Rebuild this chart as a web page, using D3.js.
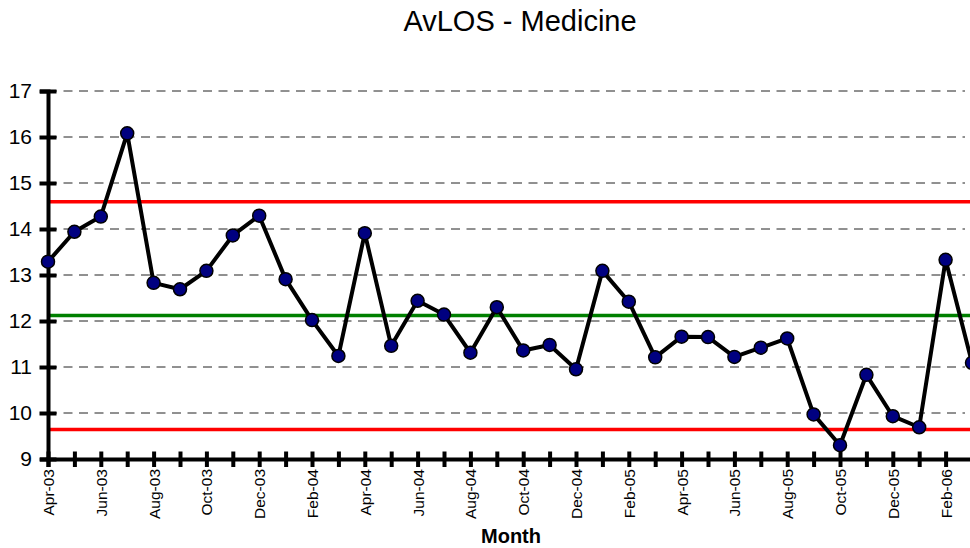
<!DOCTYPE html>
<html><head><meta charset="utf-8">
<script src="https://cdn.jsdelivr.net/npm/d3@7"></script>
<style>body{margin:0;background:#fff}svg{display:block}text{font-family:"Liberation Sans",Arial,sans-serif}</style>
</head><body><svg id="c" width="970" height="548"></svg>
<script>
const months = ["Apr-03","May-03","Jun-03","Jul-03","Aug-03","Sep-03","Oct-03","Nov-03","Dec-03","Jan-04","Feb-04","Mar-04","Apr-04","May-04","Jun-04","Jul-04","Aug-04","Sep-04","Oct-04","Nov-04","Dec-04","Jan-05","Feb-05","Mar-05","Apr-05","May-05","Jun-05","Jul-05","Aug-05","Sep-05","Oct-05","Nov-05","Dec-05","Jan-06","Feb-06","Mar-06"];
const avlos = [13.29,13.94,14.27,16.08,12.83,12.69,13.09,13.86,14.29,12.91,12.02,11.24,13.91,11.46,12.44,12.14,11.31,12.30,11.36,11.48,10.95,13.09,12.42,11.21,11.66,11.65,11.22,11.42,11.62,9.97,9.30,10.83,9.93,9.69,13.33,11.09];
const ucl = 14.59, mean = 12.12, lcl = 9.64;
const yTicks = [9,10,11,12,13,14,15,16,17];

const svg = d3.select("#c");
const x = d3.scalePoint().domain(months).range([48, 972]);
const y = d3.scaleLinear().domain([9,17]).range([459, 91]);

svg.append("text").attr("x",520).attr("y",31).attr("text-anchor","middle").attr("font-size",29).text("AvLOS - Medicine");

// gridlines
svg.append("g").selectAll("line").data(yTicks.filter(d=>d>9)).join("line")
  .attr("x1",48).attr("x2",965).attr("y1",d=>y(d)).attr("y2",d=>y(d))
  .attr("stroke","#222").attr("stroke-width",1).attr("stroke-dasharray","9,6.5");

// control lines
[[ucl,"#ff0000"],[mean,"#008000"],[lcl,"#ff0000"]].forEach(([v,c])=>{
  svg.append("line").attr("x1",48).attr("x2",970).attr("y1",y(v)).attr("y2",y(v))
    .attr("stroke",c).attr("stroke-width",3.5);
});

// y axis
const ya = svg.append("g").attr("transform","translate(48,0)")
  .call(d3.axisLeft(y).tickValues(yTicks).tickSize(8).tickFormat(d3.format("d")));
ya.select(".domain").attr("stroke","#000").attr("stroke-width",4);
ya.selectAll(".tick line").attr("x1",-8.5).attr("x2",8.5).attr("stroke","#000").attr("stroke-width",4);
ya.selectAll(".tick text").attr("x",-16).attr("font-size",21).attr("font-family","Liberation Sans, Arial").attr("fill","#000");

// x axis
const xa = svg.append("g").attr("transform","translate(0,459)")
  .call(d3.axisBottom(x).tickSize(8).tickFormat((d,i)=> i%2===0 ? d : ""));
xa.select(".domain").attr("stroke","#000").attr("stroke-width",4);
xa.selectAll(".tick line").attr("y1",-7.5).attr("y2",8).attr("stroke","#000").attr("stroke-width",4);
xa.selectAll(".tick text").attr("font-size",15.5).attr("font-family","Liberation Sans, Arial").attr("fill","#000")
  .attr("transform","rotate(-90)").attr("text-anchor","end").attr("x",-10).attr("y",0).attr("dy","0.35em");

svg.append("text").attr("x",511).attr("y",543).attr("text-anchor","middle").attr("font-size",20).attr("font-weight","bold").text("Month");

// series
const line = d3.line().x((d,i)=>x(months[i])).y(d=>y(d));
svg.append("path").datum(avlos).attr("d",line).attr("fill","none").attr("stroke","#000").attr("stroke-width",4).attr("stroke-linejoin","round");
svg.append("g").selectAll("circle").data(avlos).join("circle")
  .attr("cx",(d,i)=>x(months[i])).attr("cy",d=>y(d)).attr("r",6.5)
  .attr("fill","#000080").attr("stroke","#000").attr("stroke-width",1.5);
</script></body></html>
